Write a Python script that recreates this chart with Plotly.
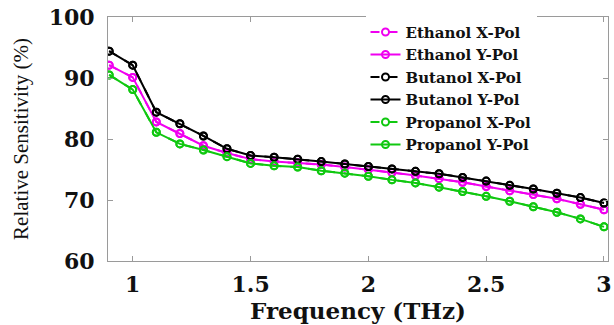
import plotly.graph_objects as go

# Frequency sweep (THz)
frequency = [0.9, 1.0, 1.1, 1.2, 1.3, 1.4, 1.5, 1.6, 1.7, 1.8, 1.9,
             2.0, 2.1, 2.2, 2.3, 2.4, 2.5, 2.6, 2.7, 2.8, 2.9, 3.0]

# Relative sensitivity (%) per analyte; X- and Y-polarisation coincide
ethanol_xpol = [92.1, 90.1, 82.8, 80.9, 78.9, 77.7, 76.7, 76.3, 76.1, 75.8, 75.4,
                75.0, 74.5, 74.0, 73.5, 72.9, 72.2, 71.5, 70.9, 70.2, 69.3, 68.4]
ethanol_ypol = ethanol_xpol
butanol_xpol = [94.4, 92.1, 84.4, 82.5, 80.5, 78.4, 77.3, 77.0, 76.7, 76.3, 75.9,
                75.5, 75.1, 74.7, 74.3, 73.7, 73.1, 72.4, 71.8, 71.1, 70.4, 69.5]
butanol_ypol = butanol_xpol
propanol_xpol = [90.5, 88.1, 81.1, 79.2, 78.2, 77.1, 76.0, 75.6, 75.4, 74.8, 74.4,
                 73.9, 73.3, 72.8, 72.1, 71.4, 70.6, 69.8, 68.9, 68.0, 66.9, 65.6]
propanol_ypol = propanol_xpol

series_names = ["Ethanol X-Pol", "Ethanol Y-Pol", "Butanol X-Pol",
                "Butanol Y-Pol", "Propanol X-Pol", "Propanol Y-Pol"]
series_values = [ethanol_xpol, ethanol_ypol, butanol_xpol,
                 butanol_ypol, propanol_xpol, propanol_ypol]
series_colors = ["#f000f0", "#f000f0", "#000000", "#000000", "#10c810", "#10c810"]
series_dash = ["dash", "solid", "dash", "solid", "dash", "solid"]

x_ticks = [1, 1.5, 2, 2.5, 3]
x_tick_text = ["1", "1.5", "2", "2.5", "3"]
y_ticks = [60, 70, 80, 90, 100]

fig = go.Figure()
for name, vals, col, dash in zip(series_names, series_values, series_colors, series_dash):
    fig.add_trace(go.Scatter(
        x=frequency, y=vals, name=name, mode="lines+markers",
        line=dict(color=col, width=2, dash=dash),
        marker=dict(symbol="circle-open", size=7, color=col, line=dict(width=2, color=col)),
    ))

tick_font = dict(family="DejaVu Serif", size=22, color="#111111", weight="bold")

fig.update_layout(
    width=614, height=325,
    margin=dict(l=108, r=2, t=17, b=64),
    paper_bgcolor="white", plot_bgcolor="white",
    showlegend=True,
    legend=dict(
        x=0.515, y=1.005, xanchor="left", yanchor="top",
        bgcolor="rgba(255,255,255,1)", borderwidth=0,
        font=dict(family="DejaVu Serif", size=15, color="#111111", weight="bold"),
        tracegroupgap=0, itemwidth=30,
    ),
    xaxis=dict(
        range=[0.895, 3.017], tickvals=x_ticks, ticktext=x_tick_text,
        showgrid=False, zeroline=False,
        showline=True, linecolor="#9a9a9a", linewidth=1, mirror="ticks",
        ticks="inside", ticklen=5, tickcolor="#9a9a9a",
        tickfont=tick_font, ticklabelstandoff=4, ticklabeloverflow="allow",
        title=dict(text="Frequency (THz)", standoff=0,
                   font=dict(family="DejaVu Serif", size=23, color="#111111", weight="bold")),
    ),
    yaxis=dict(
        range=[60, 100], tickvals=y_ticks,
        showgrid=False, zeroline=False,
        showline=True, linecolor="#9a9a9a", linewidth=1, mirror="ticks",
        ticks="inside", ticklen=5, tickcolor="#9a9a9a",
        tickfont=tick_font, ticklabelstandoff=8, ticklabeloverflow="allow",
        title=dict(text="Relative Sensitivity (%)", standoff=14,
                   font=dict(family="Liberation Serif", size=21, color="#111111")),
    ),
)

fig.write_html("out.html")
